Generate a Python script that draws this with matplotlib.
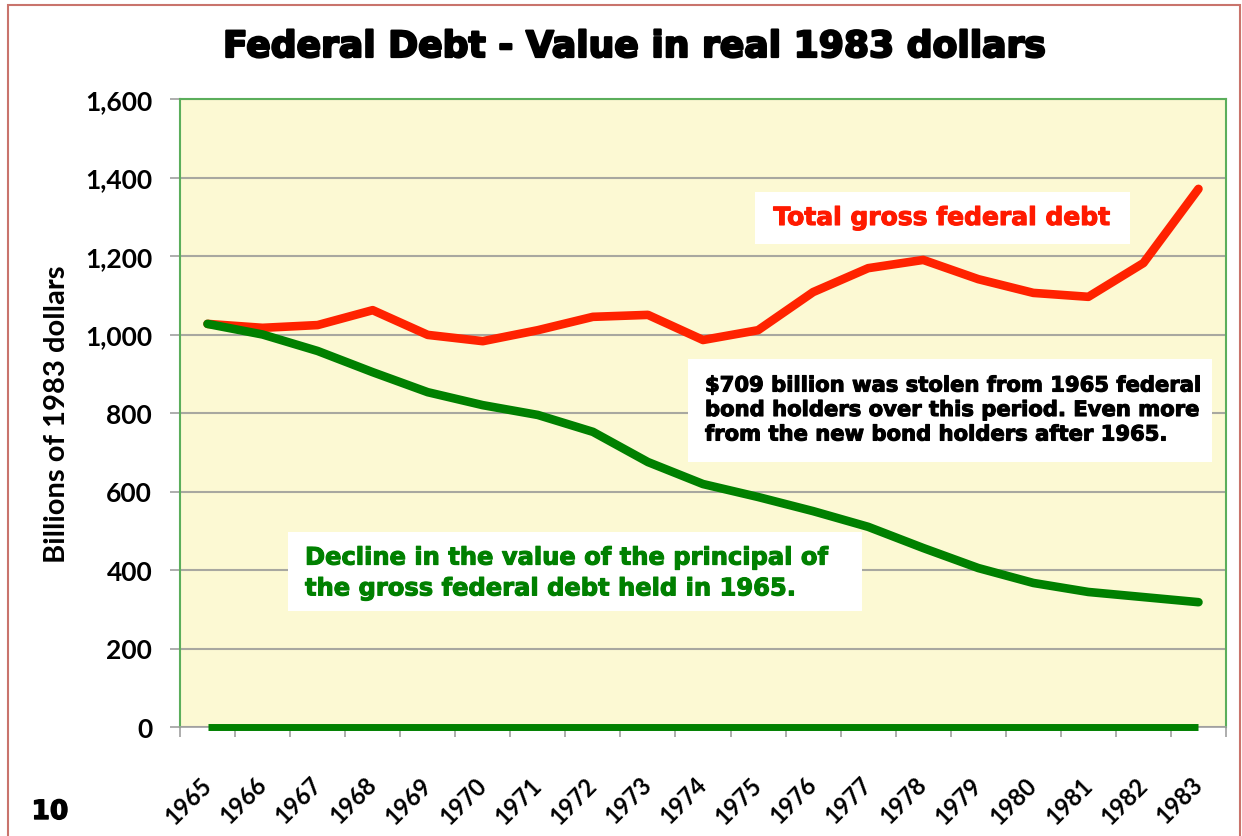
import matplotlib
matplotlib.use("Agg")
import matplotlib.pyplot as plt
from matplotlib.patches import Rectangle
from matplotlib.transforms import ScaledTranslation
import matplotlib.patheffects as pe

years = [str(y) for y in range(1965, 1984)]
total_debt = [1027, 1017, 1024, 1062, 999, 983, 1011, 1045, 1050, 986,
              1011, 1108, 1169, 1190, 1141, 1106, 1096, 1182, 1371]
value_1965 = [1027, 1000, 958, 904, 853, 820, 795, 752, 675, 619,
              586, 550, 510, 456, 405, 367, 344, 331, 318]
zero_line = [0] * len(years)
yticks = [0, 200, 400, 600, 800, 1000, 1200, 1400, 1600]

W, H = 1242, 837
fig = plt.figure(figsize=(W / 100, H / 100), dpi=100)
fig.patch.set_facecolor("white")

# figure border
fig.patches.append(Rectangle((8 / W, -0.05), (1240 - 8) / W, 1 - 6 / H + 0.05,
                             transform=fig.transFigure, fill=False,
                             edgecolor="#C9746C", linewidth=1.5))

ax = fig.add_axes([180 / W, 1 - 728 / H, (1226 - 180) / W, (728 - 100) / H])
ax.set_facecolor("#FCF9D3")

x = list(range(len(years)))
ax.plot(x, total_debt, color="#FF2200", linewidth=6.2, solid_capstyle="round",
        solid_joinstyle="round", zorder=4)
ax.plot(x, value_1965, color="#008000", linewidth=6.2, solid_capstyle="round",
        solid_joinstyle="round", zorder=5)
ax.plot(x, zero_line, color="#008000", linewidth=5.0, solid_capstyle="butt",
        zorder=5, clip_on=False)

ax.set_xlim(-0.5, len(years) - 0.5)
ax.set_ylim(0, 1600)

ax.set_yticks(yticks)
ax.set_yticklabels([f"{v:,}" for v in yticks], fontfamily="Lato",
                   fontweight="bold", fontsize=19)
ax.yaxis.grid(True, color="#A8A8A0", linewidth=1.5)
ax.set_axisbelow(True)

ax.set_xticks([i - 0.5 for i in range(len(years) + 1)])
ax.set_xticklabels([])
ax.set_xticks(x, minor=True)
ax.set_xticklabels(years, minor=True, rotation=45, ha="right",
                   rotation_mode="anchor", fontfamily="Lato",
                   fontweight="bold", fontsize=17)
ax.tick_params(axis="x", which="minor", length=0, pad=24)
ax.tick_params(axis="x", which="major", length=7, color="#A0A0A0", width=1.2)
ax.tick_params(axis="y", length=7, color="#A0A0A0", width=1.2, pad=13)
offset = ScaledTranslation(-8 / 100, -12 / 100, fig.dpi_scale_trans)
for lbl in ax.get_xticklabels(minor=True):
    lbl.set_transform(lbl.get_transform() + offset)

for side in ["left", "top", "right"]:
    ax.spines[side].set_color("#5BAE5B")
    ax.spines[side].set_linewidth(1.5)
ax.spines["bottom"].set_color("#A0A0A0")
ax.spines["bottom"].set_linewidth(1.2)

ax.set_ylabel("Billions of 1983 dollars", fontfamily="Lato", fontsize=21,
              fontweight="bold", labelpad=11)

heavy = lambda c, w: [pe.withStroke(linewidth=w, foreground=c)]

fig.text(635 / W, 1 - 48 / H, "Federal Debt - Value in real 1983 dollars",
         ha="center", va="center", fontsize=26, fontweight="bold",
         fontfamily="DejaVu Sans", path_effects=heavy("black", 1.6))

fig.text(50 / W, 1 - 813 / H, "10", ha="center", va="center",
         fontsize=19, fontweight="bold", fontfamily="DejaVu Sans",
         path_effects=heavy("black", 1.0))


def white_box(x0, y0, x1, y1):
    fig.patches.append(Rectangle((x0 / W, 1 - y1 / H), (x1 - x0) / W, (y1 - y0) / H,
                                 transform=fig.transFigure, facecolor="white",
                                 edgecolor="none", zorder=6))


def label(xp, yp, txt, color, size, ha="left", ls=1.2):
    fig.text(xp / W, 1 - yp / H, txt, ha=ha, va="center", color=color,
             fontsize=size, fontweight="bold", fontfamily="DejaVu Sans",
             linespacing=ls, multialignment="left", zorder=7,
             path_effects=heavy(color, 0.8))


white_box(755, 193, 1130, 245)
label(942, 219, "Total gross federal debt", "#FF1A00", 18, ha="center")

white_box(688, 360, 1212, 463)
label(705, 411,
      "$709 billion was stolen from 1965 federal\n"
      "bond holders over this period. Even more\n"
      "from the new bond holders after 1965.", "black", 15.2, ls=1.28)

white_box(288, 533, 862, 612)
label(305, 574,
      "Decline in the value of the principal of\n"
      "the gross federal debt held in 1965.", "#008000", 17.4, ls=1.36)

fig.savefig("out.png", dpi=100)
